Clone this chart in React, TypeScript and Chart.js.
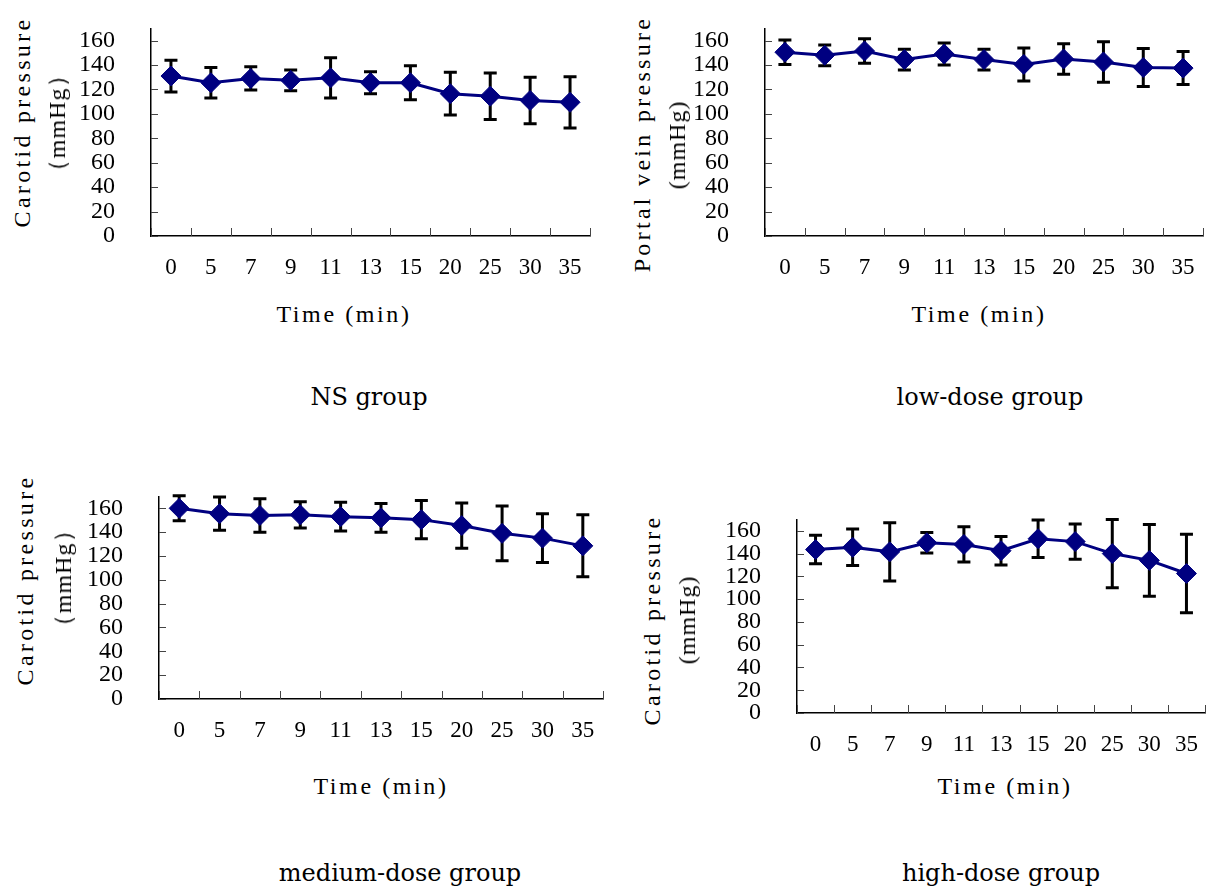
import React, { useEffect, useRef } from 'react';
import { Chart, registerables } from 'chart.js';

Chart.register(...registerables);

// ---------- data ----------
const categories = ['0', '5', '7', '9', '11', '13', '15', '20', '25', '30', '35'];
const yTickValues = [0, 20, 40, 60, 80, 100, 120, 140, 160];

const nsMean = [131, 125.5, 129, 127.5, 129.5, 125.5, 125.5, 116.5, 114.5, 111, 109.5];
const nsErr = [13, 12.5, 9.5, 8.5, 16.5, 9, 14, 17.5, 19, 19, 21];

const lowMean = [150.5, 148, 151.5, 144.5, 149, 144.5, 140.5, 145, 142.5, 138, 137.5];
const lowErr = [10, 8.5, 10, 8.5, 9, 8.5, 13.5, 12.5, 16.5, 15.5, 13.5];

const medMean = [160, 155.5, 154, 154.5, 153, 152, 150.5, 145.5, 139, 135, 128.5];
const medErr = [10.5, 14, 14, 11, 12, 12, 16, 19, 23, 20.5, 26];

const highMean = [143.5, 145.5, 141.5, 149.5, 148, 142.5, 153, 150.5, 140, 134, 122.5];
const highErr = [12.5, 16, 25.5, 9, 15.5, 12.5, 16.5, 15.5, 30, 31.5, 34.5];

const xTitle = 'Time (min)';

// ---------- layout ----------
type Panel = {
  mean: number[];
  err: number[];
  yTitle: string[];
  yTitleCenters: [number, number][];
  xTitleCenter: [number, number];
  caption: string;
  captionCenter: [number, number];
  area: { left: number; right: number; top: number; bottom: number };
};

const panels: Panel[] = [
  {
    mean: nsMean, err: nsErr,
    yTitle: ['Carotid pressure', '（mmHg）'],
    yTitleCenters: [[22, 122], [57, 123]],
    xTitleCenter: [344, 314],
    caption: 'NS group', captionCenter: [369, 397],
    area: { left: 151, right: 590, top: 18, bottom: 236 },
  },
  {
    mean: lowMean, err: lowErr,
    yTitle: ['Portal vein pressure', '(mmHg)'],
    yTitleCenters: [[642, 144], [677, 145]],
    xTitleCenter: [979, 314],
    caption: 'low-dose group', captionCenter: [990, 397],
    area: { left: 765, right: 1203, top: 18, bottom: 236 },
  },
  {
    mean: medMean, err: medErr,
    yTitle: ['Carotid pressure', '（mmHg）'],
    yTitleCenters: [[25, 580], [63, 578]],
    xTitleCenter: [381, 786],
    caption: 'medium-dose group', captionCenter: [400, 873],
    area: { left: 159, right: 603, top: 486, bottom: 699 },
  },
  {
    mean: highMean, err: highErr,
    yTitle: ['Carotid pressure', '(mmHg)'],
    yTitleCenters: [[652, 620], [687, 620]],
    xTitleCenter: [1005, 786],
    caption: 'high-dose group', captionCenter: [1001, 873],
    area: { left: 797, right: 1205, top: 509, bottom: 713 },
  },
];

const Y_AXIS_W = 100;
const X_AXIS_H = 60;
const PAD_TOP = 4;

const NAVY = '#000080';

const errorBarPlugin = {
  id: 'errorBars',
  beforeDatasetsDraw(chart: any, _args: any, opts: any) {
    const errs: number[] = opts.errors || [];
    const means = chart.data.datasets[0].data as number[];
    const xs = chart.scales.x;
    const ys = chart.scales.y;
    const ctx = chart.ctx;
    ctx.save();
    ctx.strokeStyle = '#000';
    ctx.lineWidth = 3;
    ctx.lineCap = 'butt';
    means.forEach((m, i) => {
      const px = xs.getPixelForValue(i);
      const t = ys.getPixelForValue(m + errs[i]);
      const b = ys.getPixelForValue(m - errs[i]);
      ctx.beginPath();
      ctx.moveTo(px, t);
      ctx.lineTo(px, b);
      ctx.moveTo(px - 6.5, t);
      ctx.lineTo(px + 6.5, t);
      ctx.moveTo(px - 6.5, b);
      ctx.lineTo(px + 6.5, b);
      ctx.stroke();
    });
    ctx.restore();
  },
};

const insideTicksPlugin = {
  id: 'insideTicks',
  afterDraw(chart: any) {
    const xs = chart.scales.x;
    const ys = chart.scales.y;
    const ctx = chart.ctx;
    const { left, bottom } = chart.chartArea;
    ctx.save();
    ctx.strokeStyle = '#444';
    ctx.lineWidth = 1;
    ctx.beginPath();
    yTickValues.forEach((v) => {
      const py = Math.round(ys.getPixelForValue(v)) + 0.5;
      ctx.moveTo(left, py);
      ctx.lineTo(left + 7, py);
    });
    const n = chart.data.labels.length;
    for (let i = 0; i <= n; i++) {
      const px = Math.round(xs.getPixelForValue(i - 0.5)) + 0.5;
      ctx.moveTo(px, bottom);
      ctx.lineTo(px, bottom - 8);
    }
    ctx.stroke();
    ctx.restore();
  },
};

function canvasBox(p: Panel) {
  const padRight = Math.max(1, Math.min(4, 1206 - p.area.right));
  return {
    left: p.area.left - Y_AXIS_W,
    top: p.area.top - PAD_TOP,
    width: Y_AXIS_W + (p.area.right - p.area.left) + padRight,
    height: PAD_TOP + (p.area.bottom - p.area.top) + X_AXIS_H,
    padRight,
  };
}

export default function App() {
  const refs = [useRef<HTMLCanvasElement>(null), useRef<HTMLCanvasElement>(null), useRef<HTMLCanvasElement>(null), useRef<HTMLCanvasElement>(null)];

  useEffect(() => {
    const charts: Chart[] = [];
    panels.forEach((p, idx) => {
      const cv = refs[idx].current;
      if (!cv) return;
      const box = canvasBox(p);
      const chart = new Chart(cv, {
        type: 'line',
        data: {
          labels: categories,
          datasets: [
            {
              data: p.mean,
              borderColor: NAVY,
              backgroundColor: NAVY,
              borderWidth: 3,
              pointStyle: 'rectRot',
              pointRadius: 10,
              pointBorderWidth: 1,
              pointBackgroundColor: NAVY,
              pointBorderColor: NAVY,
              tension: 0,
              fill: false,
            },
          ],
        },
        options: {
          animation: false,
          responsive: false,
          maintainAspectRatio: false,
          layout: { autoPadding: false, padding: { top: PAD_TOP, right: box.padRight, left: 0, bottom: 0 } },
          plugins: {
            legend: { display: false },
            tooltip: { enabled: false },
            errorBars: { errors: p.err },
          } as any,
          scales: {
            x: {
              type: 'category',
              offset: true,
              grid: {
                display: true,
                drawOnChartArea: false,
                drawTicks: true,
                tickLength: 18,
                color: 'rgba(0,0,0,0)',
                tickColor: 'rgba(0,0,0,0)',
                offset: true,
              },
              border: { display: true, color: '#000', width: 1.5 },
              ticks: {
                color: '#000',
                font: { family: '"Liberation Serif", serif', size: 23 },
                padding: 0,
                maxRotation: 0,
                autoSkip: false,
              },
              afterFit: (s: any) => {
                s.height = X_AXIS_H;
              },
            },
            y: {
              min: 0,
              max: 170,
              grid: {
                display: true,
                drawOnChartArea: false,
                drawTicks: true,
                tickLength: 36,
                color: 'rgba(0,0,0,0)',
                tickColor: 'rgba(0,0,0,0)',
              },
              border: { display: true, color: '#000', width: 1.5 },
              ticks: {
                color: '#000',
                font: { family: '"Liberation Serif", serif', size: 24 },
                padding: 0,
                autoSkip: false,
              },
              afterBuildTicks: (s: any) => {
                s.ticks = yTickValues.map((v) => ({ value: v }));
              },
              afterFit: (s: any) => {
                s.width = Y_AXIS_W;
              },
            },
          } as any,
        },
        plugins: [errorBarPlugin, insideTicksPlugin],
      });
      charts.push(chart);
    });
    return () => charts.forEach((c) => c.destroy());
  }, []);

  const titleFont = '"Liberation Serif", serif';
  const capFont = '"DejaVu Serif", serif';

  return (
    <div style={{ position: 'absolute', left: 0, top: 0, width: 1206, height: 890, background: '#fff', overflow: 'hidden' }}>
      {panels.map((p, idx) => {
        const box = canvasBox(p);
        return (
          <React.Fragment key={idx}>
            <canvas
              ref={refs[idx]}
              width={box.width}
              height={box.height}
              style={{ position: 'absolute', left: box.left, top: box.top, width: box.width, height: box.height }}
            />
            {p.yTitle.map((t, j) => (
              <div
                key={j}
                style={{
                  position: 'absolute',
                  left: p.yTitleCenters[j][0],
                  top: p.yTitleCenters[j][1],
                  transform: 'translate(-50%, -50%) rotate(-90deg)',
                  whiteSpace: 'nowrap',
                  fontFamily: titleFont,
                  fontSize: 24,
                  letterSpacing: j === 0 ? 3.3 : 1,
                  lineHeight: 1,
                  color: '#000',
                }}
              >
                {t}
              </div>
            ))}
            <div
              style={{
                position: 'absolute',
                left: p.xTitleCenter[0],
                top: p.xTitleCenter[1],
                transform: 'translate(-50%, -50%)',
                whiteSpace: 'nowrap',
                fontFamily: titleFont,
                fontSize: 24,
                letterSpacing: 2.6,
                lineHeight: 1,
                color: '#000',
              }}
            >
              {xTitle}
            </div>
            <div
              style={{
                position: 'absolute',
                left: p.captionCenter[0],
                top: p.captionCenter[1],
                transform: 'translate(-50%, -50%)',
                whiteSpace: 'nowrap',
                fontFamily: capFont,
                fontSize: 24,
                lineHeight: 1,
                color: '#000',
              }}
            >
              {p.caption}
            </div>
          </React.Fragment>
        );
      })}
    </div>
  );
}
